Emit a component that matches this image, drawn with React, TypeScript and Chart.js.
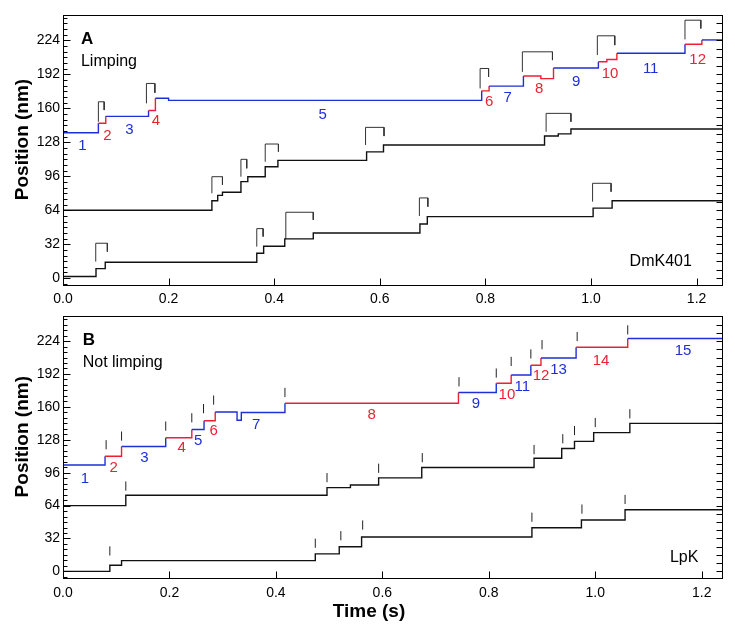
import React, { useEffect, useRef } from "react";
import { Chart, registerables } from "chart.js";

Chart.register(...registerables);

const FONT = "'Liberation Sans', Arial, Helvetica, sans-serif";
const BLUE = "#1f2ed6";
const RED = "#ec1f33";
const INK = "#111111";
const BRACKET = "#333333";

const Y_MIN = -7.4;
const Y_MAX = 248;
const yMajorTicks = [0, 32, 64, 96, 128, 160, 192, 224];
const xMajorTicks = [0, 0.2, 0.4, 0.6, 0.8, 1.0, 1.2];

// ---------- Panel A (DmK401, limping) ----------
const aTopT = [0, 0.067, 0.081, 0.162, 0.175, 0.2, 0.793, 0.807, 0.872, 0.905, 0.929, 1.014, 1.03, 1.049, 1.178, 1.21, 1.25];
const aTopY = [137, 146, 152.5, 158, 169.5, 167.5, 176.5, 181, 190.5, 188, 198, 204, 206, 212, 220.5, 224.5, 224.5];
const aTopC = ["b", "r", "b", "r", "b", "b", "r", "b", "r", "r", "b", "r", "r", "b", "r", "b", "b"];

const aMidT = [0, 0.282, 0.293, 0.302, 0.337, 0.35, 0.383, 0.407, 0.575, 0.607, 0.912, 0.938, 0.962, 1.25];
const aMidY = [64, 73, 78, 81, 91, 95.5, 105, 111, 119, 125.5, 134, 136, 140.5, 140.5];

const aBotT = [0, 0.0625, 0.08, 0.367, 0.38, 0.42, 0.474, 0.676, 0.69, 1.004, 1.04, 1.25];
const aBotY = [1.5, 9, 15, 23.5, 30, 37, 42.5, 51, 58, 66, 73, 73];

// brackets: left time, right time, top, left-leg bottom, right-leg bottom
const brAT1 = [0.067, 0.158, 0.79, 0.87, 1.012, 1.178, 0.282, 0.337, 0.383, 0.573, 0.915, 0.062, 0.367, 0.422, 0.675, 1.003];
const brAT2 = [0.078, 0.174, 0.806, 0.927, 1.045, 1.208, 0.302, 0.348, 0.408, 0.608, 0.962, 0.084, 0.379, 0.474, 0.691, 1.038];
const brATop = [166.2, 183.5, 197.6, 213.3, 228.4, 243.1, 95.6, 112, 126.4, 142.1, 155.3, 32.9, 46.7, 62.1, 75.6, 89.4];
const brALeft = [147.4, 164.7, 178.8, 194.4, 210.2, 225, 80, 95.6, 109.7, 125.5, 138, 15.6, 29.7, 36.7, 58.6, 72.1];
const brARight = [158.4, 174.7, 189.7, 205.5, 219.6, 235.3, 87.8, 103.5, 119.2, 133.9, 147.4, 25, 39.2, 54.9, 67.4, 81.5];

const lblAText = ["1", "2", "3", "4", "5", "6", "7", "8", "9", "10", "11", "12"];
const lblAT = [0.037, 0.084, 0.126, 0.176, 0.492, 0.807, 0.842, 0.902, 0.972, 1.036, 1.113, 1.202];
const lblAY = [124.8, 133.9, 139.6, 148.3, 154.3, 166.2, 170, 178.8, 185, 192.3, 197.6, 206.1];
const lblAC = ["b", "r", "b", "r", "b", "r", "b", "r", "b", "r", "b", "r"];

// ---------- Panel B (LpK, not limping) ----------
const bTopT = [0, 0.079, 0.11, 0.193, 0.242, 0.265, 0.286, 0.327, 0.335, 0.417, 0.743, 0.814, 0.842, 0.879, 0.898, 0.964, 1.061, 1.24];
const bTopY = [103.5, 112, 121.5, 130, 138, 146.5, 155, 147, 154.5, 163.5, 174, 183, 191, 200.5, 207.5, 218, 226.5, 226.5];
const bTopC = ["b", "r", "b", "r", "b", "r", "b", "b", "b", "r", "b", "r", "b", "r", "b", "r", "b", "b"];

const bMidT = [0, 0.118, 0.496, 0.54, 0.593, 0.674, 0.885, 0.937, 0.961, 0.997, 1.065, 1.24];
const bMidY = [64, 74, 81.5, 84, 91, 101, 110, 119.5, 126.5, 135, 144, 144];

const bBotT = [0, 0.088, 0.11, 0.474, 0.519, 0.561, 0.881, 0.974, 1.056, 1.24];
const bBotY = [0, 6, 10.5, 17, 24, 33.5, 42.5, 50, 60, 60];

const mkBT = [0.081, 0.11, 0.193, 0.242, 0.264, 0.283, 0.417, 0.744, 0.814, 0.842, 0.879, 0.9, 0.966, 1.061,
  0.118, 0.496, 0.593, 0.675, 0.885, 0.939, 0.961, 1.0, 1.065,
  0.088, 0.474, 0.522, 0.563, 0.881, 0.975, 1.056];
const mkBY = [123.2, 131.6, 141.3, 149.4, 158.3, 166.6, 174, 184.4, 192.9, 204.2, 211.5, 220.5, 228.4, 234.9,
  83, 91.2, 100.3, 110.6, 118.5, 129, 137, 144.8, 153.3,
  19.9, 27.4, 34.7, 45.1, 52.7, 60.6, 70];

const lblBText = ["1", "2", "3", "4", "5", "6", "7", "8", "9", "10", "11", "12", "13", "14", "15"];
const lblBT = [0.041, 0.095, 0.153, 0.223, 0.254, 0.283, 0.363, 0.58, 0.776, 0.834, 0.863, 0.898, 0.931, 1.011, 1.165];
const lblBY = [89.9, 101, 110.7, 119.9, 127.1, 136.6, 142.9, 152.4, 162.8, 172, 179.2, 190.3, 195.9, 204.4, 214.6];
const lblBC = ["b", "r", "b", "r", "b", "r", "b", "r", "b", "r", "b", "r", "b", "r", "b"];

const colOf = (c: string) => (c === "r" ? RED : c === "b" ? BLUE : INK);

type Note = { t: number; y: number; text: string; font: string; align: CanvasTextAlign; color: string };

function traceDataset(ts: number[], ys: number[], cols?: string[]) {
  const ds: any = {
    data: ts.map((t, i) => ({ x: t, y: ys[i] })),
    showLine: true,
    stepped: true,
    borderColor: cols ? colOf(cols[0]) : INK,
    borderWidth: 1.4,
    pointRadius: 0,
    pointHoverRadius: 0,
  };
  if (cols) ds.segment = { borderColor: (ctx: any) => colOf(cols[ctx.p0DataIndex]) };
  return ds;
}

function bracketDatasets() {
  return brAT1.map((t1, i) => ({
    data: [
      { x: t1, y: brALeft[i] },
      { x: t1, y: brATop[i] },
      { x: brAT2[i], y: brATop[i] },
      { x: brAT2[i], y: brARight[i] },
    ],
    showLine: true,
    borderColor: BRACKET,
    borderWidth: 1,
    pointRadius: 0,
    pointHoverRadius: 0,
  }));
}

function markerDataset() {
  return {
    data: mkBT.map((t, i) => ({ x: t, y: mkBY[i] })),
    showLine: false,
    pointStyle: "line",
    rotation: 90,
    pointRadius: 4.6,
    pointHoverRadius: 4.6,
    pointBorderColor: "#222222",
    pointBorderWidth: 1,
  };
}

function makeFramePlugin(notes: Note[], timeTitle: boolean) {
  return {
    id: "frame",
    afterDraw(chart: any) {
      const { ctx, chartArea: ca, scales } = chart;
      const xs = scales.x;
      const ys = scales.y;
      const L = Math.round(ca.left) + 0.5;
      const R = Math.round(ca.right) - 0.5;
      const T = Math.round(ca.top) + 0.5;
      const B = Math.round(ca.bottom) - 0.5;
      ctx.save();
      ctx.strokeStyle = "#000";
      ctx.lineWidth = 1;
      ctx.strokeRect(L, T, R - L, B - T);
      ctx.beginPath();
      const minorStep = 32 / 6;
      for (let k = Math.ceil(Y_MIN / minorStep); k * minorStep <= Y_MAX; k++) {
        const v = k * minorStep;
        const p = Math.round(ys.getPixelForValue(v)) + 0.5;
        const len = k % 6 === 0 ? 7 : 4;
        ctx.moveTo(L, p);
        ctx.lineTo(L + len, p);
      }
      for (let k = Math.ceil(Y_MIN / 8); k * 8 <= Y_MAX; k++) {
        const p = Math.round(ys.getPixelForValue(k * 8)) + 0.5;
        ctx.moveTo(R, p);
        ctx.lineTo(R - 6, p);
      }
      for (const v of xMajorTicks) {
        const p = Math.round(xs.getPixelForValue(v)) + 0.5;
        ctx.moveTo(p, B);
        ctx.lineTo(p, B - 7);
      }
      ctx.stroke();

      ctx.textBaseline = "middle";
      for (const n of notes) {
        ctx.font = n.font;
        ctx.fillStyle = n.color;
        ctx.textAlign = n.align;
        ctx.fillText(n.text, xs.getPixelForValue(n.t), ys.getPixelForValue(n.y));
      }

      ctx.save();
      ctx.translate(ca.left - 40.5, (ca.top + ca.bottom) / 2 - 11);
      ctx.rotate(-Math.PI / 2);
      ctx.font = `bold 19px ${FONT}`;
      ctx.fillStyle = "#000";
      ctx.textAlign = "center";
      ctx.fillText("Position (nm)", 0, 0);
      ctx.restore();

      if (timeTitle) {
        ctx.font = `bold 19px ${FONT}`;
        ctx.fillStyle = "#000";
        ctx.textAlign = "center";
        ctx.textBaseline = "middle";
        ctx.fillText("Time (s)", ca.left + 306, ca.bottom + 33);
      }
      ctx.restore();
    },
  };
}

function scalesFor(xMax: number, xAxisH: number, labelPad: number) {
  return {
    x: {
      type: "linear",
      min: 0,
      max: xMax,
      grid: { display: false, drawTicks: false },
      border: { display: false },
      afterBuildTicks: (s: any) => {
        s.ticks = xMajorTicks.map((v) => ({ value: v }));
      },
      afterFit: (s: any) => {
        s.height = xAxisH;
      },
      ticks: {
        padding: labelPad,
        color: "#000",
        maxRotation: 0,
        autoSkip: false,
        font: { family: FONT, size: 14 },
        callback: (v: any) => Number(v).toFixed(1),
      },
    },
    y: {
      type: "linear",
      min: Y_MIN,
      max: Y_MAX,
      grid: { display: false, drawTicks: false },
      border: { display: false },
      afterBuildTicks: (s: any) => {
        s.ticks = yMajorTicks.map((v) => ({ value: v }));
      },
      afterFit: (s: any) => {
        s.width = 63;
      },
      ticks: {
        padding: 3,
        color: "#000",
        autoSkip: false,
        font: { family: FONT, size: 14 },
        callback: (v: any) => String(v),
      },
    },
  };
}

function labelNotes(texts: string[], ts: number[], ys: number[], cs: string[]): Note[] {
  return texts.map((text, i) => ({
    t: ts[i],
    y: ys[i],
    text,
    font: `15px ${FONT}`,
    align: "center" as CanvasTextAlign,
    color: colOf(cs[i]),
  }));
}

function PanelA() {
  const ref = useRef<HTMLCanvasElement | null>(null);
  useEffect(() => {
    if (!ref.current) return;
    const notes: Note[] = [
      ...labelNotes(lblAText, lblAT, lblAY, lblAC),
      { t: 0.034, y: 225, text: "A", font: `bold 17px ${FONT}`, align: "left", color: "#000" },
      { t: 0.034, y: 204.5, text: "Limping", font: `16px ${FONT}`, align: "left", color: "#000" },
      { t: 1.132, y: 15.6, text: "DmK401", font: `16px ${FONT}`, align: "center", color: "#000" },
    ];
    const chart = new Chart(ref.current, {
      type: "scatter",
      data: {
        datasets: [
          traceDataset(aTopT, aTopY, aTopC),
          traceDataset(aMidT, aMidY),
          traceDataset(aBotT, aBotY),
          ...bracketDatasets(),
        ] as any,
      },
      options: {
        responsive: false,
        maintainAspectRatio: false,
        animation: false,
        layout: { padding: { top: 15, right: 12, left: 0, bottom: 0 } },
        plugins: { legend: { display: false }, tooltip: { enabled: false } },
        scales: scalesFor(1.25, 19, 5) as any,
      },
      plugins: [makeFramePlugin(notes, false)],
    });
    return () => chart.destroy();
  }, []);
  return <canvas ref={ref} width={735} height={305} style={{ display: "block", width: 735, height: 305 }} />;
}

function PanelB() {
  const ref = useRef<HTMLCanvasElement | null>(null);
  useEffect(() => {
    if (!ref.current) return;
    const notes: Note[] = [
      ...labelNotes(lblBText, lblBT, lblBY, lblBC),
      { t: 0.037, y: 224.5, text: "B", font: `bold 17px ${FONT}`, align: "left", color: "#000" },
      { t: 0.037, y: 203, text: "Not limping", font: `16px ${FONT}`, align: "left", color: "#000" },
      { t: 1.167, y: 13, text: "LpK", font: `16px ${FONT}`, align: "center", color: "#000" },
    ];
    const chart = new Chart(ref.current, {
      type: "scatter",
      data: {
        datasets: [
          traceDataset(bTopT, bTopY, bTopC),
          traceDataset(bMidT, bMidY),
          traceDataset(bBotT, bBotY),
          markerDataset(),
        ] as any,
      },
      options: {
        responsive: false,
        maintainAspectRatio: false,
        animation: false,
        layout: { padding: { top: 4, right: 12, left: 0, bottom: 0 } },
        plugins: { legend: { display: false }, tooltip: { enabled: false } },
        scales: scalesFor(1.24, 49, 6) as any,
      },
      plugins: [makeFramePlugin(notes, true)],
    });
    return () => chart.destroy();
  }, []);
  return <canvas ref={ref} width={735} height={323} style={{ display: "block", width: 735, height: 323 }} />;
}

export default function App() {
  useEffect(() => {
    document.body.style.margin = "0";
  }, []);
  return (
    <div style={{ position: "absolute", left: 0, top: 0, width: 735, height: 628, background: "#fff" }}>
      <PanelA />
      <PanelB />
    </div>
  );
}
